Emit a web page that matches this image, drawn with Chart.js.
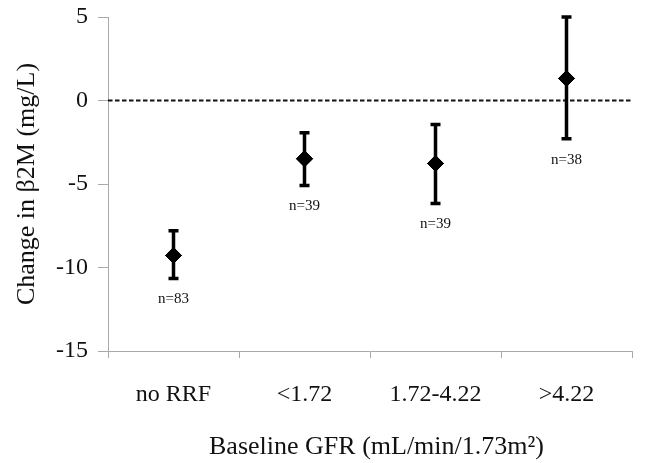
<!DOCTYPE html>
<html>
<head>
<meta charset="utf-8">
<script src="https://cdn.jsdelivr.net/npm/chart.js@4"></script>
<style>
  html, body { margin: 0; padding: 0; background: #fff; }
  #wrap { width: 662px; height: 463px; }
</style>
</head>
<body>
<div id="wrap"><canvas id="chart" width="662" height="463"></canvas></div>
<script>
// data
const groups = ["no RRF", "<1.72", "1.72-4.22", ">4.22"];
const meanChange = [-9.28, -3.49, -3.77, 1.32];
const upperCI = [-7.8, -1.93, -1.44, 5.0];
const lowerCI = [-10.66, -5.09, -6.17, -2.29];
const nLabels = ["n=83", "n=39", "n=39", "n=38"];
const yTicks = [-15, -10, -5, 0, 5];

const serif = "'Liberation Serif', 'DejaVu Serif', serif";

// error bars, n labels and the dashed zero line
const extras = {
  id: "extras",
  afterDatasetsDraw(chart) {
    const ctx = chart.ctx;
    const x = chart.scales.x;
    const y = chart.scales.y;
    const area = chart.chartArea;

    // reference line at 0
    ctx.save();
    ctx.strokeStyle = "#111";
    ctx.lineWidth = 2;
    ctx.setLineDash([4.5, 2.5]);
    const y0 = y.getPixelForValue(0);
    ctx.beginPath();
    ctx.moveTo(area.left, y0);
    ctx.lineTo(area.right, y0);
    ctx.stroke();
    ctx.restore();

    ctx.save();
    ctx.strokeStyle = "#000";
    ctx.lineWidth = 3.5;
    groups.forEach((g, i) => {
      const px = x.getPixelForValue(i);
      const top = y.getPixelForValue(upperCI[i]);
      const bot = y.getPixelForValue(lowerCI[i]);
      ctx.beginPath();
      ctx.moveTo(px, top);
      ctx.lineTo(px, bot);
      ctx.moveTo(px - 5, top);
      ctx.lineTo(px + 5, top);
      ctx.moveTo(px - 5, bot);
      ctx.lineTo(px + 5, bot);
      ctx.stroke();
    });
    ctx.fillStyle = "#111";
    ctx.font = "15px " + serif;
    ctx.textAlign = "center";
    ctx.textBaseline = "middle";
    groups.forEach((g, i) => {
      const px = x.getPixelForValue(i);
      const bot = y.getPixelForValue(lowerCI[i]);
      ctx.fillText(nLabels[i], px, bot + 21);
    });
    ctx.restore();

    // redraw the diamonds on top of the bars
    chart.getDatasetMeta(0).data.forEach((pt) => pt.draw(ctx, area));
  }
};

new Chart(document.getElementById("chart"), {
  type: "line",
  data: {
    labels: groups,
    datasets: [{
      data: meanChange,
      showLine: false,
      pointStyle: "rectRot",
      pointRadius: 8,
      pointBackgroundColor: "#000",
      pointBorderColor: "#000",
      pointBorderWidth: 1
    }]
  },
  options: {
    responsive: false,
    animation: false,
    events: [],
    layout: { padding: { top: 17, right: 30, bottom: 0, left: 0 } },
    plugins: { legend: { display: false }, tooltip: { enabled: false } },
    scales: {
      x: {
        offset: true,
        grid: { offset: true, drawOnChartArea: false, drawTicks: true, tickLength: 7, color: "#aaa" },
        border: { color: "#aaa", width: 1 },
        ticks: { color: "#111", font: { family: serif, size: 24 }, padding: 22 },
        title: {
          display: true,
          // leading spaces nudge the title right, as in the original
          text: "  Baseline GFR (mL/min/1.73m²)",
          color: "#111",
          font: { family: serif, size: 26 },
          padding: { top: 0, bottom: 0 }
        },
        afterFit(s) { s.height = 112; s.paddingLeft = 0; s.paddingRight = 0; }
      },
      y: {
        min: -15,
        max: 5,
        afterBuildTicks(s) { s.ticks = yTicks.map((v) => ({ value: v })); },
        grid: { drawOnChartArea: false, drawTicks: true, tickLength: 10, color: "#aaa" },
        border: { color: "#aaa", width: 1 },
        ticks: { color: "#111", font: { family: serif, size: 24 }, padding: 10 },
        title: {
          display: true,
          text: "Change in β2M (mg/L)",
          color: "#111",
          font: { family: serif, size: 26 },
          padding: { top: 12, bottom: 0 }
        },
        afterFit(s) { s.width = 108; s.paddingTop = 0; s.paddingBottom = 0; }
      }
    }
  },
  plugins: [extras]
});
</script>
</body>
</html>
